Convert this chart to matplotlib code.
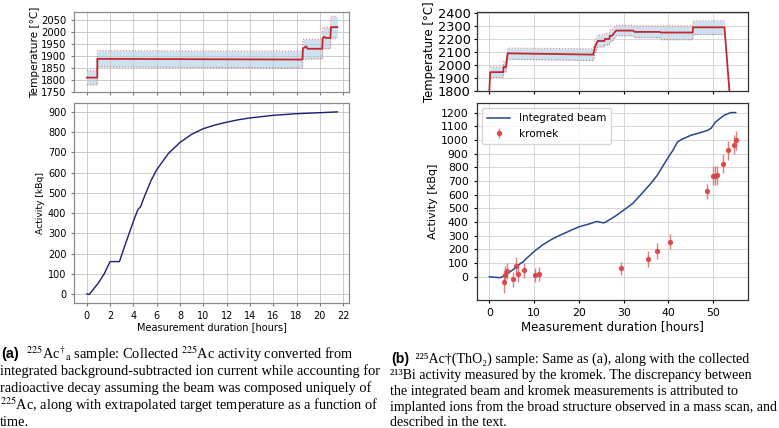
import numpy as np
import matplotlib.pyplot as plt

plt.rcParams['font.family'] = 'DejaVu Sans'
plt.rcParams['mathtext.fontset'] = 'stix'

# ---- panel (a) data ----
tA = [0, 0.9, 0.9, 18.5, 18.55, 18.8, 18.95, 20.2, 20.25, 20.4, 20.5, 20.9, 20.95, 21.5]
tempA = [1810, 1810, 1888, 1885, 1930, 1940, 1930, 1930, 1975, 1980, 1975, 1975, 2020, 2020]
lowA = [1780, 1780, 1855, 1850, 1895, 1885, 1888, 1888, 1930, 1932, 1930, 1930, 1975, 1975]
highA = [1840, 1840, 1922, 1920, 1970, 1970, 1970, 1970, 2020, 2020, 2020, 2020, 2065, 2065]

hoursA = [0, 0.2, 1.0, 1.5, 2.0, 2.8, 3.3, 4.0, 4.4, 4.6, 5.0, 5.5, 6.0, 7.0, 8.0, 9.0, 10, 11, 12,
          13, 14, 16, 18, 20, 21.5]
actA = [0, -3, 55, 100, 160, 160, 245, 360, 420, 430, 490, 560, 615, 695, 750, 790, 818, 836, 850,
        862, 871, 884, 892, 897, 901]

# ---- panel (b) data ----
tB = [0, 0.2, 3.1, 3.2, 3.7, 4.1, 23.2, 23.6, 24.2, 25.7, 25.8, 26.8, 26.9, 27.4, 28.3, 32, 32.5,
      38, 38.3, 45.4, 45.5, 52.5, 53.6]
tempB = [1800, 1945, 1945, 1985, 1985, 2090, 2080, 2140, 2185, 2185, 2200, 2200, 2225, 2225, 2265,
         2265, 2255, 2255, 2250, 2250, 2290, 2290, 1800]
lowB = [1800, 1905, 1905, 1945, 1945, 2045, 2035, 2095, 2140, 2140, 2155, 2155, 2180, 2180, 2225,
        2225, 2210, 2210, 2195, 2195, 2235, 2235, 1800]
highB = [1800, 1985, 1985, 2025, 2025, 2130, 2125, 2180, 2230, 2230, 2245, 2245, 2270, 2270, 2305,
         2305, 2300, 2300, 2300, 2300, 2340, 2340, 1800]

hoursB = [0, 1, 2, 2.4, 3, 4, 4.6, 5, 6, 7, 7.6, 8, 10, 12, 14, 16, 18, 20, 22, 24, 25, 25.5, 26,
          28, 30, 32, 33.7, 36, 37.5, 40, 41, 42, 43, 45, 47, 48.7, 49.5, 50.5, 52.4, 53.9, 55]
beamB = [0, -3, -6, -7, 2, 20, 36, 45, 70, 98, 110, 125, 185, 235, 275, 307, 336, 365, 383, 404,
         397, 394, 400, 440, 487, 535, 596, 680, 742, 876, 925, 985, 1005, 1034, 1052, 1070, 1085,
         1131, 1180, 1200, 1200]

kromT = [3.2, 3.5, 4.0, 5.2, 5.9, 6.3, 7.8, 10.1, 11.0, 29.4, 35.4, 37.4, 40.3, 48.5, 50.0, 50.4,
         50.8, 52.2, 53.2, 54.6, 55.0]
kromA = [-36, 12, 44, -19, 80, 19, 49, 12, 19, 61, 129, 190, 255, 625, 737, 737, 742, 827, 925,
         965, 998]
kromE = [85, 70, 60, 55, 65, 60, 55, 50, 50, 50, 60, 60, 55, 55, 70, 70, 70, 70, 70, 70, 70]

W, H = 779, 428
fig = plt.figure(figsize=(W / 100, H / 100), dpi=100)


def box(l, t, r, b):
    return [l / W, 1 - b / H, (r - l) / W, (b - t) / H]


red = '#c4262b'
fillc = '#c8dff0'

# ---------- (a) ----------
axT = fig.add_axes(box(74, 12, 349, 92))
axT.fill_between(tA, lowA, highA, color=fillc, alpha=0.9, lw=0)
axT.plot(tA, lowA, color=red, ls=':', lw=0.8, alpha=0.6)
axT.plot(tA, highA, color=red, ls=':', lw=0.8, alpha=0.6)
axT.plot(tA, tempA, color=red, lw=1.3)
axT.set_xlim(-1.1, 22.5)
axT.set_ylim(1750, 2083)
axT.set_xticks(range(0, 23, 2))
axT.set_xticklabels([])
axT.set_yticks(range(1750, 2051, 50))
axT.tick_params(labelsize=7.2, length=2, color='#777777')
axT.set_ylabel('Temperature [°C]', fontsize=7.6, labelpad=1)

axA = fig.add_axes(box(74, 103, 349, 303))
axA.plot(hoursA, actA, color='#1c1c78', lw=1)
axA.set_xlim(-1.1, 22.5)
axA.set_ylim(-45, 945)
axA.set_xticks(range(0, 23, 2))
axA.set_yticks(range(0, 901, 100))
axA.tick_params(labelsize=7, length=2, color='#777777')
axA.set_ylabel('Activity [kBq]', fontsize=6.6, labelpad=2)
axA.set_xlabel('Measurement duration [hours]', fontsize=7, labelpad=1)

for ax in (axT, axA):
    ax.grid(True, color='#c4c4c4', lw=0.6)
    for s in ax.spines.values():
        s.set_color('#8a8a8a')
        s.set_linewidth(0.9)

# ---------- (b) ----------
axT2 = fig.add_axes(box(477, 12, 748, 91))
axT2.fill_between(tB[1:-1], lowB[1:-1], highB[1:-1], color=fillc, alpha=0.9, lw=0)
axT2.plot(tB[1:-1], lowB[1:-1], color=red, ls=':', lw=0.8, alpha=0.6)
axT2.plot(tB[1:-1], highB[1:-1], color=red, ls=':', lw=0.8, alpha=0.6)
axT2.plot(tB, tempB, color=red, lw=1.3)
axT2.set_xlim(-2.75, 57.75)
axT2.set_ylim(1800, 2408)
axT2.set_xticks(range(0, 51, 10))
axT2.set_xticklabels([])
axT2.set_yticks(range(1800, 2401, 100))
axT2.tick_params(labelsize=9.3, length=2.5, pad=2)
axT2.set_ylabel('Temperature [°C]', fontsize=8.4, labelpad=1)

axB = fig.add_axes(box(477, 103, 748, 300))
axB.plot(hoursB, beamB, color='#24478e', lw=1.1, label='Integrated beam')
axB.errorbar(kromT, kromA, yerr=kromE, fmt='o', ms=2.8, color='#d94545', ecolor='#e07070',
             elinewidth=1, alpha=0.9, label='kromek')
axB.set_xlim(-2.75, 57.75)
axB.set_ylim(-170, 1270)
axB.set_xticks(range(0, 51, 10))
axB.set_yticks(range(0, 1201, 100))
axB.tick_params(labelsize=7.8, length=2.5)
axB.set_ylabel('Activity [kBq]', fontsize=8, labelpad=2)
axB.set_xlabel('Measurement duration [hours]', fontsize=8.6, labelpad=1)
axB.legend(loc='upper left', fontsize=7.5, framealpha=0.8, borderpad=0.5, handlelength=2.2)

for ax in (axT2, axB):
    ax.grid(True, color='#d0d0d0', lw=0.6)
    for s in ax.spines.values():
        s.set_color('#333333')
        s.set_linewidth(0.9)

# ---------- captions ----------
capA = [r" $^{225}$Ac$^{\dagger}$$_{\rm a}$ sample: Collected $^{225}$Ac activity converted from",
        "integrated background-subtracted ion current while accounting for",
        "radioactive decay assuming the beam was composed uniquely of",
        r"$^{225}$Ac, along with extrapolated target temperature as a function of",
        "time."]
capB = [" ²²⁵Ac†(ThO₂) sample: Same as (a), along with the collected",
        "²¹³Bi activity measured by the kromek. The discrepancy between",
        "the integrated beam and kromek measurements is attributed to",
        "implanted ions from the broad structure observed in a mass scan, and",
        "described in the text."]

serif = ['Liberation Serif', 'DejaVu Serif']
fsA = 10.4
for i, line in enumerate(capA):
    x0 = 0 if i else 23
    fig.text(x0 / W, 1 - (354 + 17 * i) / H, line, fontsize=fsA, family=serif, va='center')
fig.text(1 / W, 1 - 354 / H, '(a)', fontsize=fsA, family='Liberation Sans', weight='bold', va='center')

fsB = 10.1
for i, line in enumerate(capB):
    x0 = 390 if i else 412
    fig.text(x0 / W, 1 - (359 + 16 * i) / H, line, fontsize=fsB, family=serif, va='center')
fig.text(391 / W, 1 - 359 / H, '(b)', fontsize=fsB, family='Liberation Sans', weight='bold', va='center')

fig.savefig('out.png', dpi=100)
